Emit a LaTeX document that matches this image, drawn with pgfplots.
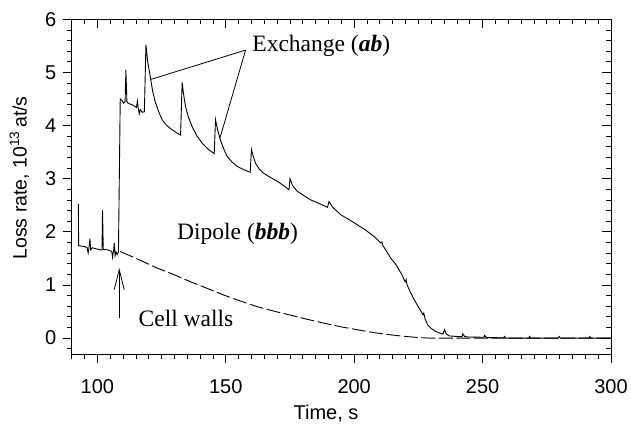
\documentclass[border=0pt]{standalone}
\usepackage{fontspec}
\setmainfont{Liberation Sans}
\newfontfamily\tnr{Liberation Serif}
\usepackage{pgfplots}
\pgfplotsset{compat=1.18}
\usetikzlibrary{arrows.meta}

\pgfplotsset{
  frame/.style={
    at={(71.7pt,74pt)}, anchor=south west, scale only axis,
    width=539.3pt, height=334.7pt,
    xmin=90, xmax=300, ymin=-0.3, ymax=6,
    xtick={100,150,...,300}, ytick={0,...,6},
    minor xtick={90,95,...,300}, minor ytick={-0.2,0,...,6},
    major tick length=9pt, minor tick length=5pt,
    every tick/.style={black, line width=0.8pt},
    axis line style={line width=0.8pt},
  },
}

\begin{document}
\begin{tikzpicture}[x=1pt,y=1pt]
\path[use as bounding box] (0,0) rectangle (631,428);

\begin{axis}[frame,
  tick align=outside, xtick pos=bottom, ytick pos=left,
  ticklabel style={font=\fontsize{20}{24}\selectfont},
  /pgf/number format/assume math mode=true,
  xticklabel style={yshift=-13pt},
  yticklabel style={xshift=-3pt},
  xlabel={Time, s},
  xlabel style={font=\fontsize{20}{24}\selectfont, at={(axis description cs:0.4716,0)}, anchor=base, yshift=-65pt},
  ylabel={Loss rate, 10\textsuperscript{13}\,at/s},
  ylabel style={font=\fontsize{19.5}{23}\selectfont, at={(axis description cs:-0.097,0.526)}, anchor=center},
  clip=false,
]
% measured rate
\addplot[black, line width=0.9pt] coordinates {
(92.6,2.53) (92.7,1.74) (95.2,1.72) (96.0,1.70) (96.4,1.60) (96.8,1.72)
(97.1,1.87) (97.4,1.66) (98.0,1.70) (99.5,1.68) (101.2,1.66) (101.8,1.66)
(102.0,2.41) (102.3,1.67) (104.0,1.66) (105.6,1.63) (105.9,1.52) (106.3,1.64)
(106.6,1.79) (106.9,1.55) (107.3,1.62) (107.7,1.57) (108.2,1.62)
(108.9,4.50) (109.6,4.47) (110.2,4.42) (110.8,4.45) (111.1,5.05) (111.5,4.45)
(112.0,4.42) (114.0,4.38) (115.2,4.34) (115.6,4.46) (115.9,4.33) (116.3,4.22)
(116.7,4.30) (117.5,4.25) (118.3,4.26)
(118.9,5.52) (119.6,5.20) (120.6,4.92) (121.5,4.65) (122.5,4.45) (123.8,4.27)
(125.2,4.11) (127.0,4.00) (129.1,3.92) (131.0,3.86) (132.4,3.82)
(133.0,4.81) (133.6,4.58) (134.3,4.36) (135.5,4.15) (136.9,3.98) (138.8,3.80)
(140.8,3.67) (143.0,3.56) (145.5,3.47)
(146.0,4.11) (146.8,3.92) (147.9,3.73) (149.2,3.56) (150.5,3.42) (152.5,3.31)
(154.5,3.23) (157.0,3.17) (159.5,3.12)
(160.0,3.55) (160.7,3.42) (161.6,3.29) (163.0,3.18) (164.8,3.10) (167.5,3.02)
(170.1,2.95) (172.5,2.87) (174.6,2.79)
(175.0,3.00) (176.0,2.87) (177.9,2.76) (180.5,2.68) (183.1,2.60) (186.5,2.53)
(189.6,2.46) (190.2,2.57) (191.5,2.47) (194.8,2.32) (198.0,2.23) (201.3,2.13)
(204.5,2.03) (207.8,1.91) (209.5,1.83) (210.4,1.79) (210.8,1.81) (211.2,1.74)
(212.5,1.64) (214.3,1.50) (216.3,1.38) (218.5,1.20) (219.8,1.06) (220.2,1.10)
(220.6,1.00) (222.0,0.85) (223.4,0.72) (225.3,0.56) (226.8,0.44) (227.1,0.47)
(227.6,0.36) (228.6,0.25) (230.0,0.18) (231.9,0.12) (234.5,0.075) (235.2,0.16)
(235.8,0.08) (237.1,0.04) (240.0,0.03) (242.0,0.025) (242.3,0.08) (243.0,0.03)
(244.3,0.02) (250.5,0.015) (250.8,0.05) (251.5,0.01) (258.2,0.005) (258.5,0.03)
(259.0,0) (268.0,0) (268.3,0.03) (268.8,0) (279.5,0) (279.8,0.03) (280.3,0)
(291.4,0) (291.7,0.03) (292.2,0) (300,0)
};
% cell-wall contribution
\addplot[black, line width=0.9pt, dash pattern=on 14pt off 3.5pt] coordinates {
(108.9,1.63) (115.0,1.50) (123.2,1.32) (130.0,1.19) (136.2,1.06) (142.5,0.94)
(149.2,0.81) (155.5,0.70) (162.3,0.59) (168.5,0.51) (175.3,0.43) (182.0,0.35)
(188.3,0.28) (195.0,0.21) (201.3,0.156) (208.0,0.10) (214.3,0.06) (220.0,0.03)
(225.0,0.01) (229.0,0) (300,0)
};

\node[anchor=base west, inner sep=0, font=\tnr\fontsize{23.5}{27}\selectfont]
  at (axis cs:160.3,5.39) {Exchange (\textbf{\textit{ab}})};
\node[anchor=base west, inner sep=0, font=\tnr\fontsize{23.5}{27}\selectfont]
  at (axis cs:131.0,1.85) {Dipole (\textbf{\textit{bbb}})};
\node[anchor=base west, inner sep=0, font=\tnr\fontsize{23.5}{27}\selectfont]
  at (axis cs:116.0,0.22) {Cell walls};
\draw[line width=0.8pt] (axis cs:157.7,5.42) -- (axis cs:120.9,4.87);
\draw[line width=0.8pt] (axis cs:157.7,5.42) -- (axis cs:147.7,3.76);
\draw[line width=0.8pt, -{Straight Barb[length=20pt,width=10pt]}]
  (axis cs:108.5,0.376) -- (axis cs:108.5,1.32);
\end{axis}

\begin{axis}[frame,
  tick align=inside, xtick pos=top, ytick pos=right,
  xticklabels={}, yticklabels={},
]
\end{axis}
\end{tikzpicture}
\end{document}
